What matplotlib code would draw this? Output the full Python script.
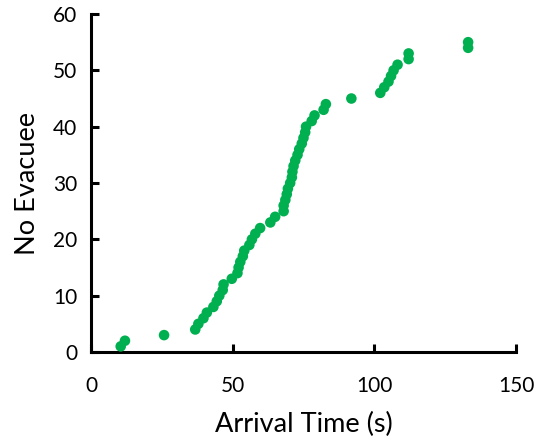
import matplotlib
matplotlib.use("Agg")
import matplotlib.pyplot as plt

plt.rcParams['font.family'] = ['Lato', 'DejaVu Sans']

evacuee_no = list(range(1, 56))
arrival_time = [
    10.5, 12.0, 25.8, 36.8, 37.9, 39.7, 40.9, 43.2, 44.4, 45.3,
    46.5, 46.8, 49.7, 51.7, 52.1, 52.7, 53.6, 54.1, 55.9, 56.8,
    58.0, 59.7, 63.3, 65.0, 68.0, 68.0, 68.6, 69.1, 69.5, 70.3,
    70.9, 71.1, 71.5, 72.1, 72.9, 73.5, 74.4, 75.0, 75.6, 75.9,
    77.9, 78.9, 82.1, 82.9, 91.9, 102.1, 103.5, 105.0, 105.9, 106.8,
    108.2, 112.1, 112.1, 133.1, 133.1,
]
x_ticks = [0, 50, 100, 150]
y_ticks = [0, 10, 20, 30, 40, 50, 60]

fig = plt.figure(figsize=(5.35, 4.42), dpi=100)
ax = fig.add_axes([0.170, 0.2036, 0.7945, 0.7647])
ax.scatter(arrival_time, evacuee_no, s=58, color='#00B050', edgecolors='none', zorder=3)
ax.set_xlim(0, 150)
ax.set_ylim(0, 60)
ax.set_xticks(x_ticks)
ax.set_yticks(y_ticks)
for s in ['top', 'right']:
    ax.spines[s].set_visible(False)
for s in ['left', 'bottom']:
    ax.spines[s].set_linewidth(2.2)
ax.tick_params(direction='in', length=6, width=2.2, labelsize=15, colors='black', pad=10)
ax.tick_params(axis='x', pad=17)
ax.set_xlabel('Arrival Time (s)', fontsize=19.5, labelpad=12)
ax.set_ylabel('No Evacuee', fontsize=19.5, labelpad=9)
fig.savefig('out.png', dpi=100)
